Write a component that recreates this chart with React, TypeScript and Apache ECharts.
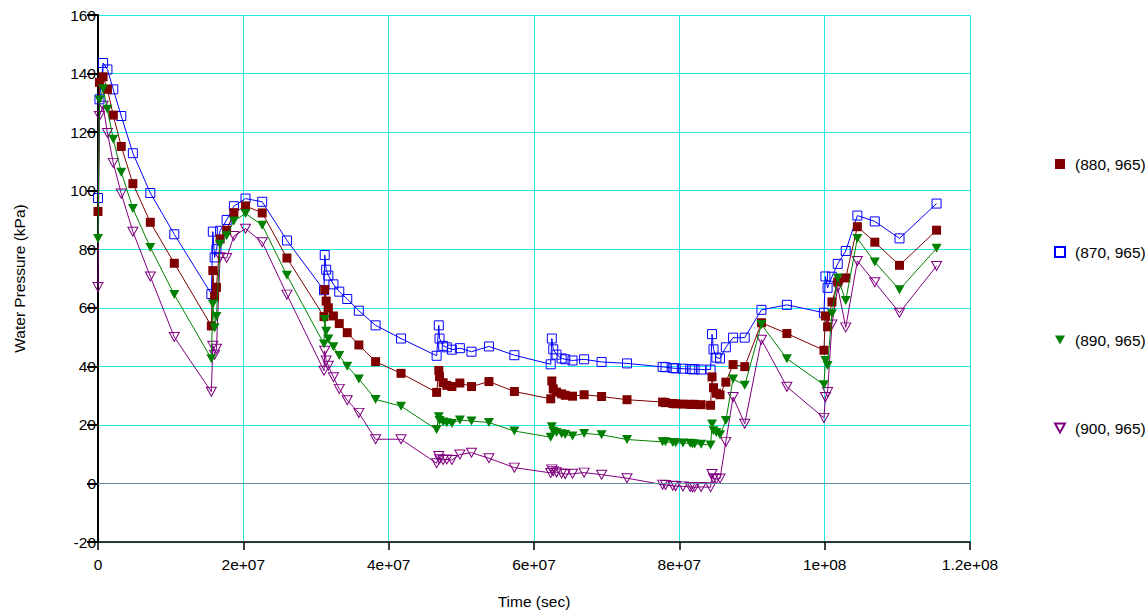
import React, { useEffect, useRef } from "react";
import * as echarts from "echarts";

// Time steps (sec), shared by all four series
const times = [
  0, 0.02e7, 0.07e7, 0.13e7, 0.21e7, 0.32e7, 0.48e7, 0.72e7, 1.05e7,
  1.56e7, 1.58e7, 1.605e7, 1.63e7, 1.68e7, 1.77e7, 1.87e7, 2.03e7, 2.26e7, 2.6e7,
  3.11e7, 3.12e7, 3.14e7, 3.17e7, 3.24e7, 3.32e7, 3.43e7, 3.59e7, 3.82e7, 4.17e7,
  4.66e7, 4.69e7, 4.7e7, 4.75e7, 4.8e7, 4.87e7, 4.98e7, 5.14e7, 5.38e7, 5.73e7,
  6.23e7, 6.245e7, 6.265e7, 6.31e7, 6.38e7, 6.43e7, 6.53e7, 6.69e7, 6.93e7, 7.28e7,
  7.77e7, 7.81e7, 7.91e7, 7.95e7, 8.05e7, 8.15e7, 8.18e7, 8.21e7, 8.3e7, 8.43e7,
  8.45e7, 8.47e7, 8.51e7, 8.56e7, 8.64e7, 8.74e7, 8.9e7, 9.13e7, 9.48e7,
  9.99e7, 10.01e7, 10.04e7, 10.1e7, 10.18e7, 10.29e7, 10.45e7, 10.69e7, 11.03e7, 11.54e7,
];

const p880 = [
  92.9, 137.0, 138.9, 134.6, 125.8, 115.1, 102.4, 89.2, 75.2,
  53.8, 72.7, 64.0, 67.0, 83.5, 86.5, 92.5, 94.8, 92.4, 77.0,
  57.0, 66.2, 62.3, 60.0, 57.2, 54.6, 51.5, 47.3, 41.6, 37.6,
  31.1, 38.6, 36.5, 34.4, 33.5, 33.1, 34.3, 33.1, 34.8, 31.4,
  28.9, 35.0, 32.3, 31.2, 30.6, 30.1, 29.8, 30.3, 29.7, 28.6,
  27.8, 27.6, 27.3, 27.2, 27.1, 27.0, 27.0, 27.0, 26.9, 26.7,
  36.4, 32.7, 30.8, 30.3, 34.6, 40.6, 39.9, 54.9, 51.2,
  45.5, 57.2, 53.5, 62.0, 68.8, 70.2, 87.7, 82.4, 74.5, 86.5,
];

const p870 = [
  97.5, 131.2, 143.6, 141.4, 134.6, 125.5, 112.8, 99.2, 85.1,
  64.7, 86.0, 77.2, 80.0, 86.3, 90.0, 94.7, 97.3, 96.2, 83.0,
  66.0, 78.0, 73.0, 71.0, 68.0, 65.5, 63.0, 59.0, 54.0, 49.5,
  43.6, 54.0, 49.5, 47.0, 46.5, 45.7, 46.2, 45.0, 46.8, 43.8,
  40.7, 49.5, 45.8, 44.0, 42.7, 42.4, 42.0, 42.4, 41.5, 41.0,
  39.8, 39.7, 39.4, 39.3, 39.2, 39.1, 39.0, 39.0, 38.9, 38.9,
  51.0, 45.8, 43.0, 42.7, 46.5, 49.8, 49.8, 59.3, 61.0,
  58.3, 70.7, 66.8, 70.6, 75.0, 79.4, 91.5, 89.5, 83.7, 95.6,
];

const p890 = [
  83.7, 131.0, 134.8, 127.8, 117.6, 106.3, 93.9, 80.6, 64.5,
  42.6, 61.3, 53.2, 57.0, 81.7, 84.6, 89.6, 92.2, 88.2, 71.1,
  47.6, 56.0, 52.0, 49.3, 46.7, 43.7, 40.0, 35.7, 28.7, 26.4,
  18.4, 22.8, 21.5, 21.0, 20.7, 20.5, 21.7, 21.3, 20.8, 17.9,
  15.8, 19.4, 17.8, 17.4, 17.0, 16.7, 16.2, 17.1, 16.6, 15.0,
  14.2, 14.2, 14.0, 13.9, 13.8, 13.7, 13.6, 13.5, 13.4, 13.1,
  20.3, 18.0, 17.4, 16.6, 21.5, 35.7, 33.5, 54.3, 42.6,
  33.7, 42.0, 40.3, 58.0, 70.2, 62.5, 83.7, 75.6, 66.2, 80.3,
];

const p900 = [
  67.1, 125.5, 129.0, 119.7, 109.5, 99.0, 86.0, 70.7, 50.0,
  31.3, 47.0, 44.0, 46.0, 77.3, 77.0, 84.5, 87.0, 82.4, 64.5,
  38.5, 45.3, 42.0, 40.2, 36.3, 32.3, 28.4, 24.1, 15.1, 15.1,
  6.9, 9.4, 8.3, 8.0, 8.2, 8.0, 9.9, 10.5, 8.6, 5.4,
  3.6, 4.8, 4.2, 3.8, 3.4, 3.2, 3.3, 3.7, 3.0, 1.8,
  -0.4, -0.5, -0.8, -0.9, -1.0, -1.2, -1.3, -1.3, -1.2, -1.3,
  3.2, 1.8, 1.5, 1.7, 14.2, 29.5, 20.4, 49.1, 33.0,
  22.4, 29.5, 31.2, 54.3, 67.0, 53.3, 76.0, 68.7, 58.3, 74.3,
];

const seriesNames = ["(880, 965)", "(870, 965)", "(890, 965)", "(900, 965)"];

const FONT = "'Liberation Sans', Arial, sans-serif";
const DOWN_TRI = "path://M0,0L10,0L5,9Z";
const FS = 15.5;

function fmtX(v: number): string {
  if (v === 0) return "0";
  return v.toExponential().replace(/e\+(\d)$/, "e+0$1");
}

export default function App() {
  const ref = useRef<HTMLDivElement>(null);

  useEffect(() => {
    if (!ref.current) return;
    const chart = echarts.init(ref.current, null, { renderer: "svg" });
    const mk = (vals: number[]) => times.map((t, i) => [t, vals[i]]);

    const option: any = {
      animation: false,
      backgroundColor: "#ffffff",
      textStyle: { fontFamily: FONT },
      grid: { left: 98, top: 15, right: 175, bottom: 68, containLabel: false },
      legend: {
        orient: "vertical",
        left: 1054,
        top: 156,
        padding: 0,
        itemGap: 72,
        itemWidth: 10,
        itemHeight: 10,
        textStyle: { fontFamily: FONT, fontSize: FS, color: "#000", padding: [0, 0, 0, 5] },
        data: [
          { name: seriesNames[0], icon: "rect" },
          { name: seriesNames[1], icon: "rect" },
          { name: seriesNames[2], icon: DOWN_TRI },
          { name: seriesNames[3], icon: DOWN_TRI },
        ],
      },
      xAxis: {
        type: "value",
        min: 0,
        max: 1.2e8,
        interval: 2e7,
        name: "Time (sec)",
        nameLocation: "middle",
        nameGap: 51,
        nameTextStyle: { fontFamily: FONT, fontSize: FS, color: "#000" },
        axisLine: { onZero: false, lineStyle: { color: "#000", width: 1.5 } },
        axisTick: { show: true, length: 8, lineStyle: { color: "#000", width: 1.5 } },
        axisLabel: { formatter: fmtX, fontFamily: FONT, fontSize: FS, color: "#000", margin: 14 },
        splitLine: { show: true, lineStyle: { color: "#22e8e8", width: 1 } },
      },
      yAxis: {
        type: "value",
        min: -20,
        max: 160,
        interval: 20,
        name: "Water Pressure (kPa)",
        nameLocation: "middle",
        nameGap: 71,
        nameTextStyle: { fontFamily: FONT, fontSize: FS, color: "#000" },
        axisLine: { show: true, onZero: false, lineStyle: { color: "#000", width: 2 } },
        axisTick: { show: true, length: 11, lineStyle: { color: "#000", width: 2 } },
        axisLabel: { fontFamily: FONT, fontSize: FS, color: "#000", margin: 2 },
        splitLine: { show: true, lineStyle: { color: "#22e8e8", width: 1 } },
      },
      series: [
        {
          name: seriesNames[0],
          type: "line",
          data: mk(p880),
          symbol: "rect",
          symbolSize: 9,
          showAllSymbol: true,
          lineStyle: { color: "#800000", width: 1 },
          itemStyle: { color: "#800000", borderColor: "#800000", borderWidth: 0 },
          markLine: {
            silent: true,
            symbol: "none",
            label: { show: false },
            lineStyle: { color: "#5f8f9f", width: 1, type: "solid" },
            data: [{ yAxis: 0 }],
          },
          z: 4,
        },
        {
          name: seriesNames[1],
          type: "line",
          data: mk(p870),
          symbol: "rect",
          symbolSize: 9,
          showAllSymbol: true,
          lineStyle: { color: "#0000ff", width: 1 },
          itemStyle: { color: "rgba(255,255,255,0)", borderColor: "#0000ff", borderWidth: 1 },
          z: 3,
        },
        {
          name: seriesNames[2],
          type: "line",
          data: mk(p890),
          symbol: DOWN_TRI,
          symbolSize: [10, 9],
          showAllSymbol: true,
          lineStyle: { color: "#008000", width: 1 },
          itemStyle: { color: "#008000", borderColor: "#008000", borderWidth: 0 },
          z: 5,
        },
        {
          name: seriesNames[3],
          type: "line",
          data: mk(p900),
          symbol: DOWN_TRI,
          symbolSize: [10, 9],
          showAllSymbol: true,
          lineStyle: { color: "#800080", width: 1 },
          itemStyle: { color: "rgba(255,255,255,0)", borderColor: "#800080", borderWidth: 1 },
          z: 2,
        },
      ],
    };

    chart.setOption(option);
    return () => chart.dispose();
  }, []);

  return (
    <div
      ref={ref}
      style={{ position: "absolute", left: 0, top: 0, width: 1145, height: 614, background: "#fff" }}
    />
  );
}
